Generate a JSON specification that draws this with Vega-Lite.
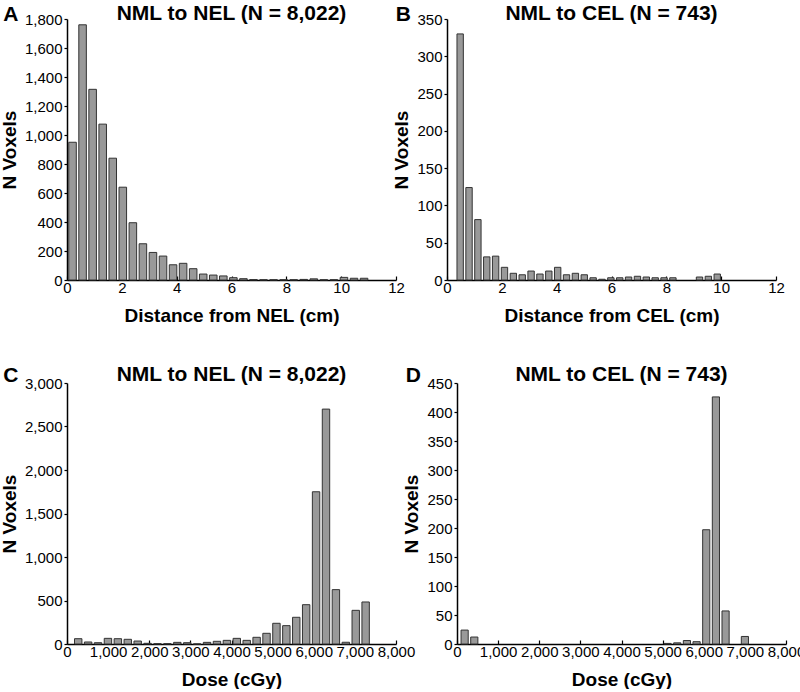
{
  "$schema": "https://vega.github.io/schema/vega-lite/v6.json",
  "padding": {"left": 0, "top": 3, "right": 0, "bottom": 0},
  "background": "white",
  "datasets": {
    "A": [
      {"lo":0,"hi":0.367,"n":950},{"lo":0.367,"hi":0.733,"n":1760},{"lo":0.733,"hi":1.1,"n":1315},
      {"lo":1.1,"hi":1.467,"n":1075},{"lo":1.467,"hi":1.833,"n":840},{"lo":1.833,"hi":2.2,"n":640},
      {"lo":2.2,"hi":2.567,"n":395},{"lo":2.567,"hi":2.933,"n":250},{"lo":2.933,"hi":3.3,"n":190},
      {"lo":3.3,"hi":3.667,"n":165},{"lo":3.667,"hi":4.033,"n":105},{"lo":4.033,"hi":4.4,"n":115},
      {"lo":4.4,"hi":4.767,"n":78},{"lo":4.767,"hi":5.133,"n":41},{"lo":5.133,"hi":5.5,"n":34},
      {"lo":5.5,"hi":5.867,"n":28},{"lo":5.867,"hi":6.233,"n":16},{"lo":6.233,"hi":6.6,"n":9},
      {"lo":6.6,"hi":6.967,"n":3},{"lo":6.967,"hi":7.333,"n":2},{"lo":7.333,"hi":7.7,"n":2},
      {"lo":7.7,"hi":8.067,"n":2},{"lo":8.067,"hi":8.433,"n":2},{"lo":8.433,"hi":8.8,"n":4},
      {"lo":8.8,"hi":9.167,"n":8},{"lo":9.167,"hi":9.533,"n":2},{"lo":9.533,"hi":9.9,"n":2},
      {"lo":9.9,"hi":10.267,"n":18},{"lo":10.267,"hi":10.633,"n":12},{"lo":10.633,"hi":11,"n":12}
    ],
    "B": [
      {"lo":0.3,"hi":0.623,"n":330},{"lo":0.623,"hi":0.947,"n":124},{"lo":0.947,"hi":1.27,"n":81},
      {"lo":1.27,"hi":1.593,"n":31},{"lo":1.593,"hi":1.917,"n":32},{"lo":1.917,"hi":2.24,"n":17},
      {"lo":2.24,"hi":2.563,"n":9},{"lo":2.563,"hi":2.887,"n":7},{"lo":2.887,"hi":3.21,"n":12},
      {"lo":3.21,"hi":3.533,"n":8},{"lo":3.533,"hi":3.857,"n":12},{"lo":3.857,"hi":4.18,"n":17},
      {"lo":4.18,"hi":4.503,"n":7},{"lo":4.503,"hi":4.827,"n":9},{"lo":4.827,"hi":5.15,"n":7},
      {"lo":5.15,"hi":5.473,"n":3},{"lo":5.473,"hi":5.797,"n":1},{"lo":5.797,"hi":6.12,"n":3},
      {"lo":6.12,"hi":6.443,"n":3},{"lo":6.443,"hi":6.767,"n":4},{"lo":6.767,"hi":7.09,"n":5},
      {"lo":7.09,"hi":7.413,"n":4},{"lo":7.413,"hi":7.737,"n":3},{"lo":7.737,"hi":8.06,"n":3},
      {"lo":8.06,"hi":8.383,"n":3},{"lo":9.03,"hi":9.353,"n":4},{"lo":9.353,"hi":9.677,"n":5},
      {"lo":9.677,"hi":10,"n":8}
    ],
    "C": [
      {"lo":140,"hi":381,"n":61},{"lo":381,"hi":622,"n":23},{"lo":622,"hi":863,"n":15},
      {"lo":863,"hi":1104,"n":65},{"lo":1104,"hi":1345,"n":61},{"lo":1345,"hi":1586,"n":54},
      {"lo":1586,"hi":1827,"n":34},{"lo":1827,"hi":2068,"n":8},{"lo":2068,"hi":2309,"n":4},
      {"lo":2309,"hi":2550,"n":4},{"lo":2550,"hi":2791,"n":19},{"lo":2791,"hi":3032,"n":15},
      {"lo":3032,"hi":3273,"n":1},{"lo":3273,"hi":3514,"n":19},{"lo":3514,"hi":3755,"n":31},
      {"lo":3755,"hi":3996,"n":42},{"lo":3996,"hi":4237,"n":65},{"lo":4237,"hi":4478,"n":42},
      {"lo":4478,"hi":4719,"n":77},{"lo":4719,"hi":4960,"n":123},{"lo":4960,"hi":5201,"n":238},
      {"lo":5201,"hi":5442,"n":211},{"lo":5442,"hi":5683,"n":307},{"lo":5683,"hi":5924,"n":452},
      {"lo":5924,"hi":6165,"n":1750},{"lo":6165,"hi":6406,"n":2700},{"lo":6406,"hi":6647,"n":625},
      {"lo":6647,"hi":6888,"n":20},{"lo":6888,"hi":7129,"n":387},{"lo":7129,"hi":7370,"n":483}
    ],
    "D": [
      {"lo":56,"hi":291,"n":24},{"lo":291,"hi":526,"n":12},
      {"lo":4991,"hi":5226,"n":1},{"lo":5226,"hi":5461,"n":2},{"lo":5461,"hi":5696,"n":6},
      {"lo":5696,"hi":5931,"n":4},{"lo":5931,"hi":6166,"n":197},{"lo":6166,"hi":6401,"n":426},
      {"lo":6401,"hi":6636,"n":57},{"lo":6871,"hi":7106,"n":13}
    ]
  },
  "vconcat": [
    {
      "hconcat": [
        {
          "title": {"text": "A", "orient": "left", "anchor": "end", "angle": 0, "offset": -18, "align": "left", "baseline": "top", "dy": 1},
          "vconcat": [
            {
              "data": {"name": "A"},
              "title": {"text": "NML to NEL (N = 8,022)", "offset": -12},
              "width": 329, "height": 261,
              "mark": {"type": "bar", "fill": "#999999", "stroke": "#333333", "strokeWidth": 1, "binSpacing": 2.5},
              "encoding": {
                "x": {"field": "lo", "type": "quantitative", "bin": "binned", "scale": {"domain": [0, 12], "nice": false},
                      "axis": {"values": [0,2,4,6,8,10,12], "format": "d", "title": "Distance from NEL (cm)"}},
                "x2": {"field": "hi"},
                "y": {"field": "n", "type": "quantitative", "scale": {"domain": [0, 1800], "nice": false},
                      "axis": {"values": [0,200,400,600,800,1000,1200,1400,1600,1800], "format": ",d", "title": "N Voxels"}}
              }
            }
          ]
        },
        {
          "title": {"text": "B", "orient": "left", "anchor": "end", "angle": 0, "offset": -18, "align": "left", "baseline": "top", "dy": 1},
          "vconcat": [
            {
              "data": {"name": "B"},
              "title": {"text": "NML to CEL (N = 743)", "offset": -12},
              "width": 329, "height": 261,
              "mark": {"type": "bar", "fill": "#999999", "stroke": "#333333", "strokeWidth": 1, "binSpacing": 2.5},
              "encoding": {
                "x": {"field": "lo", "type": "quantitative", "bin": "binned", "scale": {"domain": [0, 12], "nice": false},
                      "axis": {"values": [0,2,4,6,8,10,12], "format": "d", "title": "Distance from CEL (cm)"}},
                "x2": {"field": "hi"},
                "y": {"field": "n", "type": "quantitative", "scale": {"domain": [0, 350], "nice": false},
                      "axis": {"values": [0,50,100,150,200,250,300,350], "format": "d", "title": "N Voxels"}}
              }
            }
          ]
        }
      ],
      "spacing": -13
    },
    {
      "hconcat": [
        {
          "title": {"text": "C", "orient": "left", "anchor": "end", "angle": 0, "offset": -18, "align": "left", "baseline": "top", "dy": 1},
          "vconcat": [
            {
              "data": {"name": "C"},
              "title": {"text": "NML to NEL (N = 8,022)", "offset": -9},
              "width": 329, "height": 261,
              "mark": {"type": "bar", "fill": "#999999", "stroke": "#333333", "strokeWidth": 1, "binSpacing": 2.5},
              "encoding": {
                "x": {"field": "lo", "type": "quantitative", "bin": "binned", "scale": {"domain": [0, 8000], "nice": false},
                      "axis": {"values": [0,1000,2000,3000,4000,5000,6000,7000,8000], "format": ",d", "title": "Dose (cGy)"}},
                "x2": {"field": "hi"},
                "y": {"field": "n", "type": "quantitative", "scale": {"domain": [0, 3000], "nice": false},
                      "axis": {"values": [0,500,1000,1500,2000,2500,3000], "format": ",d", "title": "N Voxels"}}
              }
            }
          ]
        },
        {
          "title": {"text": "D", "orient": "left", "anchor": "end", "angle": 0, "offset": -18, "align": "left", "baseline": "top", "dy": 1},
          "vconcat": [
            {
              "data": {"name": "D"},
              "title": {"text": "NML to CEL (N = 743)", "offset": -9},
              "width": 329, "height": 261,
              "mark": {"type": "bar", "fill": "#999999", "stroke": "#333333", "strokeWidth": 1, "binSpacing": 2.5},
              "encoding": {
                "x": {"field": "lo", "type": "quantitative", "bin": "binned", "scale": {"domain": [0, 8000], "nice": false},
                      "axis": {"values": [0,1000,2000,3000,4000,5000,6000,7000,8000], "format": ",d", "title": "Dose (cGy)"}},
                "x2": {"field": "hi"},
                "y": {"field": "n", "type": "quantitative", "scale": {"domain": [0, 450], "nice": false},
                      "axis": {"values": [0,50,100,150,200,250,300,350,400,450], "format": "d", "title": "N Voxels"}}
              }
            }
          ]
        }
      ],
      "spacing": -13
    }
  ],
  "spacing": 39,
  "config": {
    "font": "Liberation Sans",
    "view": {"stroke": null},
    "axis": {
      "grid": false,
      "labelFont": "Liberation Sans", "labelFontSize": 15, "labelColor": "#000000",
      "titleFont": "Liberation Sans", "titleFontSize": 19, "titleFontWeight": "bold", "titleColor": "#000000",
      "domainColor": "#000000", "domainWidth": 1.5, "tickColor": "#000000", "tickWidth": 1.2
    },
    "axisX": {"tickSize": -4, "labelPadding": 4, "titlePadding": 11, "labelFlush": false},
    "axisY": {"tickSize": 3, "labelPadding": 2, "titlePadding": 5, "labelFlush": false},
    "title": {"font": "Liberation Sans", "fontSize": 21, "fontWeight": "bold", "color": "#000000"}
  }
}
